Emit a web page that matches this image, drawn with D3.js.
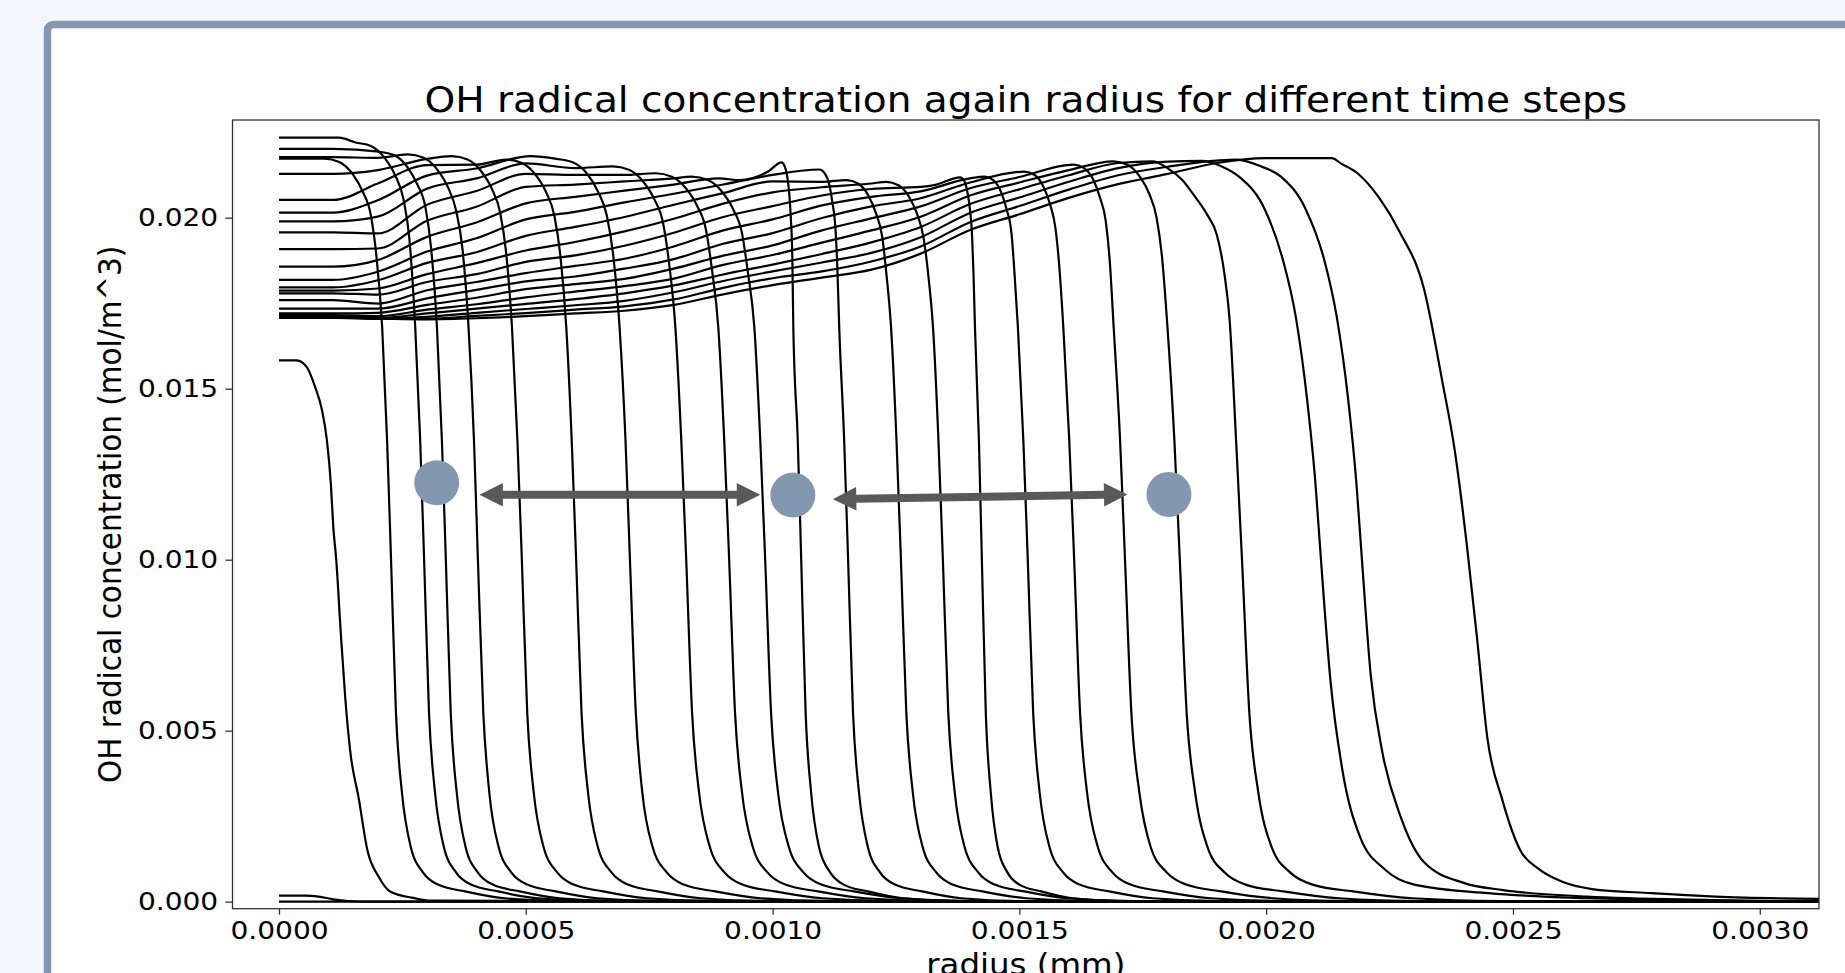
<!DOCTYPE html>
<html>
<head>
<meta charset="utf-8">
<title>OH radical concentration</title>
<script src="https://d3js.org/d3.v7.min.js"></script>
<style>
  html, body { margin: 0; padding: 0; background: #f3f6fa; overflow: hidden; }
  svg { display: block; font-family: "DejaVu Sans", sans-serif; }
</style>
</head>
<body>
<svg id="chart" width="1845" height="973"></svg>
<script>
// radius stored in 1e-4 mm, concentration in 1e-3 mol/m^3
var rUnit = 1e-4, cUnit = 1e-3;

var xTicks = [0, 0.0005, 0.0010, 0.0015, 0.0020, 0.0025, 0.0030];
var yTicks = [0, 0.005, 0.010, 0.015, 0.020];

// one array per time step
var step00 = [[0,0],[31.2,0]];
var step01 = [[0,0.18],[0.55,0.18],[0.8,0.15],[1.1,0.07],[1.4,0.02],[1.8,0],[31.2,0]];
var step02 = [[0,15.83],[0.36,15.83],[0.56,15.64],[0.73,15.06],[0.87,14.38],[0.97,13.5],[1.05,12.24],[1.10,10.96],[1.16,9.99],[1.25,7.9],[1.34,6.0],[1.44,4.44],[1.62,2.98],[1.79,1.51],[2.02,0.73],[2.26,0.29],[2.72,0.11],[3.07,0.03],[31.2,0]];
var step03 = [[0,21.73],[0.92,21.73],[1.22,21.63],[1.49,21.28],[1.69,20.78],[1.86,20.08],[1.97,18.93],[2.09,16.8],[2.19,13.5],[2.27,10],[2.37,5.5],[2.49,3.2],[2.67,1.6],[2.92,0.85],[3.22,0.5],[3.77,0.3],[4.57,0.1],[5.77,0.02],[31.2,0]];
var step04 = [[0,22.34],[1.22,22.34],[1.55,22.2],[1.86,22.1],[2.14,21.75],[2.35,21.25],[2.52,20.55],[2.64,19.4],[2.76,16.8],[2.86,13.5],[2.94,10],[3.04,5.5],[3.16,3.2],[3.34,1.6],[3.59,0.85],[3.89,0.5],[4.44,0.3],[5.24,0.1],[6.44,0.02],[31.2,0]];
var step05 = [[0,22.01],[1.1,22.01],[2.03,21.93],[2.33,21.83],[2.60,21.48],[2.80,20.98],[2.97,20.28],[3.08,19.13],[3.20,16.8],[3.30,13.5],[3.38,10],[3.48,5.5],[3.60,3.2],[3.78,1.6],[4.03,0.85],[4.33,0.5],[4.88,0.3],[5.68,0.1],[6.88,0.02],[31.2,0]];
var step06 = [[0,21.77],[1.1,21.77],[2,21.75],[2.61,21.85],[2.93,21.75],[3.21,21.4],[3.42,20.9],[3.59,20.2],[3.72,19.05],[3.84,16.8],[3.95,13.5],[4.03,10],[4.14,5.5],[4.26,3.2],[4.45,1.6],[4.71,0.85],[5.03,0.5],[5.61,0.3],[6.45,0.1],[7.71,0.02],[31.2,0]];
var step07 = [[0,21.28],[1.1,21.28],[2,21.39],[3,21.72],[3.5,21.8],[3.82,21.7],[4.10,21.35],[4.31,20.85],[4.48,20.15],[4.60,19.0],[4.72,16.8],[4.83,13.5],[4.92,10],[5.03,5.5],[5.16,3.2],[5.36,1.6],[5.64,0.85],[5.97,0.5],[6.57,0.3],[7.45,0.1],[8.77,0.02],[31.2,0]];
var step08 = [[0,20.52],[1.1,20.52],[2,21.00],[3,21.54],[4,21.55],[4.6,21.7],[4.92,21.6],[5.20,21.25],[5.41,20.75],[5.58,20.05],[5.70,18.9],[5.82,16.8],[5.93,13.5],[6.02,10],[6.13,5.5],[6.26,3.2],[6.46,1.6],[6.74,0.85],[7.07,0.5],[7.67,0.3],[8.55,0.1],[9.87,0.02],[31.2,0]];
var step09 = [[0,20.15],[1.1,20.15],[2,20.51],[3,21.23],[4,21.44],[5.1,21.8],[5.62,21.72],[5.95,21.62],[6.25,21.27],[6.46,20.77],[6.64,20.07],[6.77,18.92],[6.90,16.8],[7.02,13.5],[7.11,10],[7.23,5.5],[7.36,3.2],[7.57,1.6],[7.86,0.85],[8.20,0.5],[8.84,0.3],[9.76,0.1],[11.14,0.02],[31.2,0]];
var step10 = [[0,19.89],[1.1,19.89],[2,20.03],[3,20.85],[4,21.15],[5,21.59],[6,21.45],[6.76,21.5],[7.09,21.4],[7.38,21.05],[7.60,20.55],[7.78,19.85],[7.90,18.7],[8.03,16.8],[8.15,13.5],[8.25,10],[8.37,5.5],[8.51,3.2],[8.73,1.6],[9.03,0.85],[9.39,0.5],[10.05,0.3],[11.01,0.1],[12.45,0.02],[31.2,0]];
var step11 = [[0,19.57],[1.1,19.57],[2,19.54],[3,20.38],[4,20.78],[5,21.28],[6,21.25],[7,21.25],[7.63,21.3],[7.96,21.2],[8.25,20.85],[8.47,20.35],[8.65,19.65],[8.77,18.5],[8.90,16.8],[9.02,13.5],[9.12,10],[9.24,5.5],[9.38,3.2],[9.60,1.6],[9.90,0.85],[10.26,0.5],[10.92,0.3],[11.88,0.1],[13.32,0.02],[31.2,0]];
var step12 = [[0,19.08],[1.1,19.08],[2,19.10],[3,19.91],[4,20.32],[5,20.90],[6,20.97],[7,21.06],[8,21.15],[8.36,21.2],[8.69,21.1],[8.98,20.75],[9.20,20.25],[9.38,19.55],[9.50,18.4],[9.63,16.8],[9.75,13.5],[9.85,10],[9.97,5.5],[10.11,3.2],[10.33,1.6],[10.63,0.85],[10.99,0.5],[11.65,0.3],[12.61,0.1],[14.05,0.02],[31.2,0]];
var step13 = [[0,18.57],[1.1,18.57],[2,18.76],[3,19.44],[4,19.86],[5,20.42],[6,20.61],[7,20.79],[8,20.97],[8.9,21.15],[9.33,21.10],[9.91,21.35],[10.18,21.62],[10.24,21.52],[10.30,21.17],[10.34,20.67],[10.37,19.97],[10.40,18.82],[10.42,16.8],[10.51,13.5],[10.58,10],[10.67,5.5],[10.78,3.2],[10.94,1.6],[11.17,0.85],[11.44,0.5],[11.93,0.3],[12.65,0.1],[13.73,0.02],[31.2,0]];
var step14 = [[0,18.18],[1.1,18.18],[2,18.42],[3,19.01],[4,19.40],[5,19.95],[6,20.17],[7,20.45],[8,20.70],[9,20.97],[10,21.25],[10.95,21.41],[11.05,21.31],[11.15,20.96],[11.21,20.46],[11.27,19.76],[11.31,18.61],[11.35,16.8],[11.45,13.5],[11.53,10],[11.63,5.5],[11.75,3.2],[11.93,1.6],[12.18,0.85],[12.48,0.5],[13.03,0.3],[13.83,0.1],[15.03,0.02],[31.2,0]];
var step15 = [[0,17.96],[1.1,17.96],[2,18.17],[3,18.68],[4,18.99],[5,19.47],[6,19.73],[7,20.02],[8,20.38],[9,20.72],[10,21.06],[11,21.05],[11.5,21.1],[11.73,21.0],[11.94,20.65],[12.09,20.15],[12.22,19.45],[12.31,18.3],[12.40,16.8],[12.51,13.5],[12.60,10],[12.71,5.5],[12.84,3.2],[13.04,1.6],[13.32,0.85],[13.65,0.5],[14.25,0.3],[15.13,0.1],[16.45,0.02],[31.2,0]];
var step16 = [[0,17.87],[1.1,17.87],[2,17.93],[3,18.35],[4,18.67],[5,19.04],[6,19.29],[7,19.60],[8,19.97],[9,20.41],[10,20.74],[11,20.89],[12,21.0],[12.3,21.05],[12.55,20.95],[12.77,20.6],[12.93,20.1],[13.06,19.4],[13.16,18.25],[13.25,16.8],[13.36,13.5],[13.45,10],[13.56,5.5],[13.69,3.2],[13.89,1.6],[14.17,0.85],[14.50,0.5],[15.10,0.3],[15.98,0.1],[17.30,0.02],[31.2,0]];
var step17 = [[0,17.79],[1.1,17.79],[2,17.75],[3,18.12],[4,18.35],[5,18.71],[6,18.90],[7,19.18],[8,19.56],[9,20.02],[10,20.34],[11,20.65],[12,20.84],[13,20.9],[13.3,20.96],[13.8,21.18],[13.88,21.08],[13.95,20.73],[14.0,20.23],[14.04,19.53],[14.07,18.38],[14.10,16.8],[14.18,13.5],[14.24,10],[14.32,5.5],[14.42,3.2],[14.56,1.6],[14.76,0.85],[15.0,0.5],[15.44,0.3],[16.08,0.1],[17.04,0.02],[31.2,0]];
var step18 = [[0,17.59],[1.1,17.59],[2,17.49],[3,17.88],[4,18.12],[5,18.38],[6,18.59],[7,18.80],[8,19.16],[9,19.63],[10,19.95],[11,20.36],[12,20.61],[13,20.77],[14,21.15],[14.3,21.2],[14.47,21.1],[14.63,20.75],[14.74,20.25],[14.84,19.55],[14.90,18.4],[14.97,16.8],[15.08,13.5],[15.17,10],[15.28,5.5],[15.41,3.2],[15.61,1.6],[15.89,0.85],[16.22,0.5],[16.82,0.3],[17.70,0.1],[19.02,0.02],[31.2,0]];
var step19 = [[0,17.34],[1.1,17.34],[2,17.34],[3,17.64],[4,17.89],[5,18.14],[6,18.28],[7,18.51],[8,18.79],[9,19.24],[10,19.55],[11,19.99],[12,20.33],[13,20.57],[14,21.03],[15.1,21.35],[15.31,21.25],[15.49,20.9],[15.62,20.4],[15.73,19.7],[15.81,18.55],[15.89,16.8],[16.01,13.5],[16.11,10],[16.23,5.5],[16.37,3.2],[16.59,1.6],[16.89,0.85],[17.25,0.5],[17.91,0.3],[18.87,0.1],[20.31,0.02],[31.2,0]];
var step20 = [[0,17.20],[1.1,17.20],[2,17.22],[3,17.45],[4,17.66],[5,17.91],[6,18.06],[7,18.21],[8,18.51],[9,18.89],[10,19.19],[11,19.63],[12,19.98],[13,20.33],[14,20.86],[15,21.19],[16.1,21.55],[16.31,21.45],[16.50,21.1],[16.63,20.6],[16.75,19.9],[16.83,18.75],[16.91,16.8],[17.04,13.5],[17.14,10],[17.27,5.5],[17.43,3.2],[17.66,1.6],[17.99,0.85],[18.38,0.5],[19.09,0.3],[20.13,0.1],[21.69,0.02],[31.2,0]];
var step21 = [[0,17.15],[1.1,17.15],[2,17.12],[3,17.31],[4,17.47],[5,17.67],[6,17.84],[7,18.00],[8,18.22],[9,18.62],[10,18.91],[11,19.27],[12,19.63],[13,20.03],[14,20.65],[15,21.03],[16,21.39],[16.9,21.65],[17.19,21.55],[17.44,21.2],[17.63,20.7],[17.78,20.0],[17.89,18.85],[18.0,16.8],[18.14,13.5],[18.25,10],[18.39,5.5],[18.56,3.2],[18.81,1.6],[19.16,0.85],[19.58,0.5],[20.35,0.3],[21.47,0.1],[23.15,0.02],[31.2,0]];
var step22 = [[0,17.12],[1.1,17.12],[2,17.07],[3,17.20],[4,17.34],[5,17.48],[6,17.62],[7,17.79],[8,18.02],[9,18.34],[10,18.63],[11,18.94],[12,19.28],[13,19.73],[14,20.40],[15,20.83],[16,21.24],[17,21.6],[17.7,21.65],[18.0,21.45],[18.3,21.1],[18.54,20.65],[18.8,20.1],[19.0,19.5],[19.15,18.4],[19.26,17.0],[19.39,13.5],[19.51,10],[19.66,5.5],[19.84,3.2],[20.11,1.6],[20.49,0.85],[20.94,0.5],[21.76,0.3],[22.96,0.1],[24.76,0.02],[31.2,0]];
var step23 = [[0,17.10],[1.1,17.10],[2,17.05],[3,17.10],[4,17.22],[5,17.33],[6,17.44],[7,17.57],[8,17.82],[9,18.15],[10,18.43],[11,18.69],[12,18.97],[13,19.43],[14,20.14],[15,20.59],[16,21.05],[17,21.45],[18,21.64],[18.7,21.66],[19.1,21.5],[19.45,21.2],[19.98,20.22],[20.34,18.76],[20.6,17.1],[20.83,14.67],[21.0,12.2],[21.11,10],[21.3,6.5],[21.55,3.8],[21.9,1.9],[22.4,0.95],[23.0,0.5],[24.5,0.25],[26.5,0.1],[29,0.03],[31.2,0]];
var step24 = [[0,17.08],[1.1,17.08],[2,17.05],[3,17.05],[4,17.13],[5,17.21],[6,17.31],[7,17.41],[8,17.61],[9,17.95],[10,18.23],[11,18.43],[12,18.72],[13,19.16],[14,19.87],[15,20.34],[16,20.82],[17,21.24],[18,21.49],[19,21.67],[19.4,21.70],[19.9,21.5],[20.3,21.2],[20.8,20.25],[21.17,18.8],[21.43,17.1],[21.66,14.7],[21.83,12.2],[21.94,10],[22.12,6.6],[22.35,4.4],[22.72,2.5],[23.2,1.15],[24.0,0.55],[24.8,0.34],[26.5,0.15],[29,0.05],[31.2,0]];
var step25 = [[0,17.07],[1.1,17.07],[2,17.05],[3,17.03],[4,17.06],[5,17.12],[6,17.2],[7,17.28],[8,17.45],[9,17.76],[10,18.03],[11,18.25],[12,18.48],[13,18.95],[14,19.64],[15,20.1],[16,20.58],[17,20.98],[18,21.28],[19,21.6],[20,21.74],[21.33,21.74],[21.51,21.59],[21.85,21.30],[22.28,20.6],[22.7,19.6],[23.2,17.9],[23.57,15.2],[23.82,13.2],[24.06,10.5],[24.28,7.6],[24.48,4.8],[24.78,3.0],[25.15,1.5],[25.5,0.98],[26.0,0.58],[26.6,0.37],[27.8,0.25],[29.1,0.15],[31.2,0.08]];

var steps = [step00, step01, step02, step03, step04, step05, step06, step07, step08, step09,
             step10, step11, step12, step13, step14, step15, step16, step17, step18, step19,
             step20, step21, step22, step23, step24, step25];

// overlay markers (same units as the data)
var markerR = [3.195, 10.41, 18.03];
var markerC = [12.25, 11.89, 11.91];
var arrowFrom = [[4.06, 11.90], [11.22, 11.77]];
var arrowTo   = [[9.75, 11.90], [17.19, 11.91]];

var svg = d3.select("#chart");

// page and card
svg.append("rect").attr("width", 1845).attr("height", 973).attr("fill", "#f3f6fa");
svg.append("rect")
  .attr("x", 47.5).attr("y", 24.5).attr("width", 1900).attr("height", 1100).attr("rx", 6)
  .attr("fill", "#ffffff").attr("stroke", "#8497b0").attr("stroke-width", 7.5);

var plotLeft = 232.5, plotRight = 1819, plotTop = 120, plotBottom = 908.7;
var sx = 1.1; // the picture is a bit wider than tall

var x = d3.scaleLinear().domain([-0.942e-4, 31.2e-4]).range([plotLeft, plotRight]);
var y = d3.scaleLinear().domain([-0.205e-3, 22.857e-3]).range([plotBottom, plotTop]);

svg.append("clipPath").attr("id", "plotclip")
  .append("rect").attr("x", plotLeft).attr("y", plotTop)
  .attr("width", plotRight - plotLeft).attr("height", plotBottom - plotTop);

var line = d3.line()
  .x(function(d) { return x(d[0] * rUnit); })
  .y(function(d) { return y(d[1] * cUnit); })
  .curve(d3.curveMonotoneX);

svg.append("g").attr("clip-path", "url(#plotclip)")
  .selectAll("path")
  .data(steps)
  .enter()
  .append("path")
  .attr("d", line)
  .attr("fill", "none")
  .attr("stroke", "#000")
  .attr("stroke-width", 2.2)
  .attr("stroke-linejoin", "round");

// frame
svg.append("rect")
  .attr("x", plotLeft).attr("y", plotTop)
  .attr("width", plotRight - plotLeft).attr("height", plotBottom - plotTop)
  .attr("fill", "none").attr("stroke", "#333").attr("stroke-width", 1.3);

// axes
var gx = svg.append("g")
  .attr("transform", "translate(0," + plotBottom + ")")
  .call(d3.axisBottom(x).tickValues(xTicks).tickFormat(d3.format(".4f")).tickSize(6).tickPadding(6));
var gy = svg.append("g")
  .attr("transform", "translate(" + plotLeft + ",0)")
  .call(d3.axisLeft(y).tickValues(yTicks).tickFormat(d3.format(".3f")).tickSize(7).tickPadding(6));

[gx, gy].forEach(function(g) {
  g.select(".domain").remove();
  g.selectAll(".tick line").attr("stroke", "#333").attr("stroke-width", 1.3);
  g.selectAll(".tick text")
    .attr("fill", "#000")
    .style("font-family", "DejaVu Sans")
    .style("font-size", "25.5px")
    .attr("transform", "scale(" + sx + ",1)");
});

// title and labels
var midX = (plotLeft + plotRight) / 2, midY = (plotTop + plotBottom) / 2;

svg.append("text")
  .attr("transform", "translate(" + midX + ",112) scale(" + sx + ",1)")
  .attr("text-anchor", "middle")
  .style("font-size", "35.5px")
  .text("OH radical concentration again radius for different time steps");

// the reference crops this label at the bottom edge
svg.append("text")
  .attr("transform", "translate(" + midX + ",975) scale(" + sx + ",1)")
  .attr("text-anchor", "middle")
  .style("font-size", "29.5px")
  .text("radius (mm)");

svg.append("text")
  .attr("transform", "translate(121," + midY + ") scale(" + sx + ",1) rotate(-90)")
  .attr("text-anchor", "middle")
  .style("font-size", "29.5px")
  .text("OH radical concentration (mol/m^3)");

// overlay: circles and double arrows
svg.append("g").selectAll("circle")
  .data(markerR)
  .enter()
  .append("circle")
  .attr("cx", function(d) { return x(d * rUnit); })
  .attr("cy", function(d, i) { return y(markerC[i] * cUnit); })
  .attr("r", 22.5)
  .attr("fill", "#8497b0");

function arrowPoints(a, b) {
  var x0 = x(a[0] * rUnit), y0 = y(a[1] * cUnit);
  var x1 = x(b[0] * rUnit), y1 = y(b[1] * cUnit);
  var len = Math.hypot(x1 - x0, y1 - y0);
  var ux = (x1 - x0) / len, uy = (y1 - y0) / len;
  var nx = -uy, ny = ux;
  var hl = 23.5, hw = 11.7, sw = 4;
  var bx0 = x0 + ux * hl, by0 = y0 + uy * hl;
  var bx1 = x1 - ux * hl, by1 = y1 - uy * hl;
  var pts = [
    [x0, y0],
    [bx0 + nx * hw, by0 + ny * hw],
    [bx0 + nx * sw, by0 + ny * sw],
    [bx1 + nx * sw, by1 + ny * sw],
    [bx1 + nx * hw, by1 + ny * hw],
    [x1, y1],
    [bx1 - nx * hw, by1 - ny * hw],
    [bx1 - nx * sw, by1 - ny * sw],
    [bx0 - nx * sw, by0 - ny * sw],
    [bx0 - nx * hw, by0 - ny * hw]
  ];
  return pts.map(function(p) { return p.join(","); }).join(" ");
}

svg.append("g").selectAll("polygon")
  .data(arrowFrom)
  .enter()
  .append("polygon")
  .attr("points", function(d, i) { return arrowPoints(d, arrowTo[i]); })
  .attr("fill", "#595959");
</script>
</body>
</html>
